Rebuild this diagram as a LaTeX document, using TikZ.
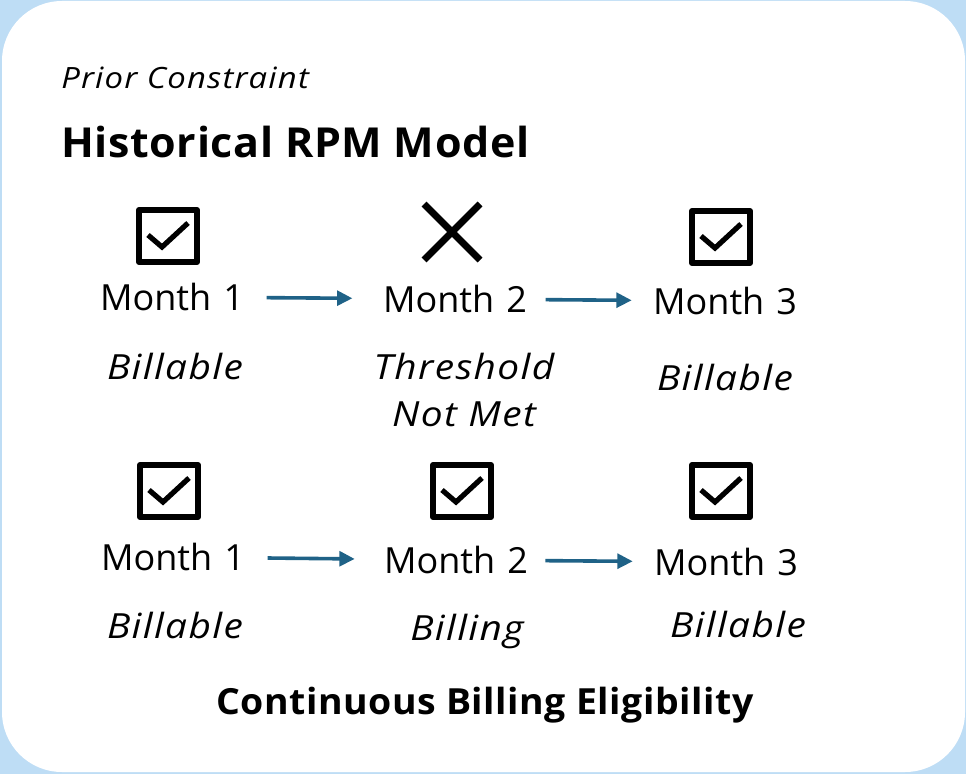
\documentclass[tikz,border=0pt]{standalone}
\usepackage{fontspec}
\setmainfont{Open Sans}
\newfontfamily\wideitfont{Open Sans}[FakeStretch=1.12,LetterSpace=4]
\newfontfamily\widebffont{Open Sans}[FakeStretch=1.04,LetterSpace=1.5]
\usetikzlibrary{arrows.meta,positioning}
\definecolor{frameblue}{RGB}{190,221,245}
\definecolor{flowblue}{RGB}{31,98,135}

\begin{document}
\begin{tikzpicture}[x=0.75pt,y=-0.75pt,line join=round,
    month/.style={font=\fontsize{27}{31}\selectfont, inner sep=0pt, text width=109.5pt, align=center},
    note/.style={font=\wideitfont\itshape\fontsize{26}{35}\selectfont, inner sep=0pt, align=center},
    flow/.style={-{Triangle[length=11.5pt,width=11pt]}, flowblue, line width=2.7pt},
    tickbox/.pic={
      \draw[line width=4.5pt] (-29,-26) rectangle (29,26);
      \draw[line width=3.9pt, line cap=butt, line join=miter] (-20,-1) -- (-6,11) -- (20,-13);
    },
    crossmark/.pic={
      \draw[line width=5.25pt] (-28,-28) -- (28,28) (-28,28) -- (28,-28);
    }]
  \useasboundingbox (0,0) rectangle (966,774);

  % Frame
  \fill[frameblue] (0,0) rectangle (966,774);
  \fill[white, rounded corners=45pt] (2,1) rectangle (965,772);

  % Headings
  \node[anchor=west, inner sep=0pt, font=\wideitfont\itshape\fontsize{22}{26}\selectfont] (prior) at (61,78) {Prior Constraint};
  \node[anchor=west, inner sep=0pt, font=\widebffont\bfseries\fontsize{31}{36}\selectfont] (title) at (61,142) {Historical RPM Model};

  % First row
  \pic at (168,236) {tickbox};
  \pic at (452,232) {crossmark};
  \pic at (721,237) {tickbox};
  \node[month] (m11) at (172,297) {Month 1};
  \node[month] (m12) at (455,299) {Month 2};
  \node[month] (m13) at (725,301) {Month 3};
  \node[note] (b11) at (175,366) {Billable};
  \node[note] (b12) at (464,390) {Threshold\\Not Met};
  \node[note] (b13) at (725,377) {Billable};
  \draw[flow, shorten <=16pt, shorten >=22pt] (m11) -- (m12);
  \draw[flow, shorten <=13pt, shorten >=15pt] (m12) -- (m13);

  % Second row
  \pic at (169,491) {tickbox};
  \pic at (462,491) {tickbox};
  \pic at (721,491) {tickbox};
  \node[month] (m21) at (173,557) {Month 1};
  \node[month] (m22) at (456,560) {Month 2};
  \node[month] (m23) at (726,562) {Month 3};
  \node[note] (b21) at (175,625) {Billable};
  \node[note] (b22) at (467,631) {Billing};
  \node[note] (b23) at (738,624) {Billable};
  \draw[flow, shorten <=16pt, shorten >=21pt] (m21) -- (m22);
  \draw[flow, shorten <=12pt, shorten >=15pt] (m22) -- (m23);

  \node[inner sep=0pt, font=\widebffont\bfseries\fontsize{27}{32}\selectfont] (summary) at (485,705) {Continuous Billing Eligibility};
\end{tikzpicture}
\end{document}
